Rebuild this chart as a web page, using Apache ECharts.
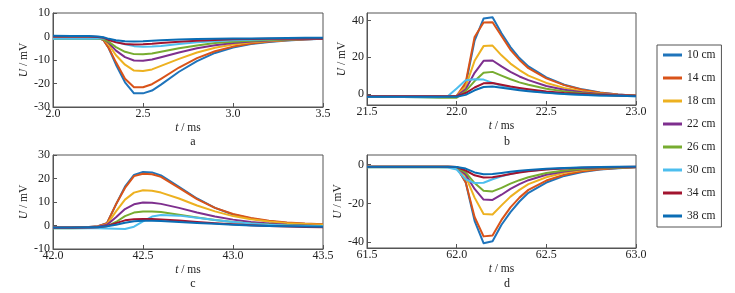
<!DOCTYPE html>
<html>
<head>
<meta charset="utf-8">
<script src="https://cdn.jsdelivr.net/npm/echarts@6/dist/echarts.min.js"></script>
<style>
  html, body { margin: 0; padding: 0; background: #fff; }
  #main { width: 735px; height: 293px; }
</style>
</head>
<body>
<div id="main"></div>
<script>
// distances (legend order)
const names = ['10 cm', '14 cm', '18 cm', '22 cm', '26 cm', '30 cm', '34 cm', '38 cm'];
const colors = ['#1f74bb', '#d95319', '#edb120', '#7e2f8e', '#77ac30', '#4dbeee', '#a2142f', '#0a6db5'];

// panel a
const tA = [2.0, 2.1, 2.2, 2.25, 2.28, 2.31, 2.35, 2.4, 2.45, 2.5, 2.55, 2.6, 2.7, 2.8, 2.9, 3.0, 3.1, 3.2, 3.3, 3.4, 3.5];
const uA = [
  [-0.3, -0.2, -0.2, -0.5, -1.5, -5, -12, -19.5, -24.2, -24.2, -23, -20.5, -15, -10.5, -7, -4.7, -3.2, -2.3, -1.7, -1.3, -1.0],
  [-0.3, -0.2, -0.2, -0.5, -1.5, -5, -11, -18, -21.6, -21.6, -20.3, -18, -13.2, -9.2, -6.3, -4.3, -3, -2.1, -1.6, -1.2, -1.0],
  [-0.8, -0.8, -0.8, -0.8, -1, -3.5, -8, -12, -14.5, -14.7, -14, -12.5, -9.5, -6.8, -4.8, -3.4, -2.5, -1.9, -1.5, -1.2, -1.0],
  [-0.8, -0.8, -0.8, -0.8, -1, -2.8, -6, -8.8, -10.2, -10.3, -9.8, -8.8, -6.8, -5, -3.7, -2.8, -2.1, -1.7, -1.4, -1.2, -1.0],
  [-1, -1, -1, -1, -1.2, -2.3, -4.5, -6.5, -7.5, -7.6, -7.2, -6.5, -5, -3.8, -2.8, -2.2, -1.8, -1.5, -1.3, -1.1, -1.0],
  [-1, -1, -1, -0.8, -0.8, -1.2, -2.2, -3.3, -4.1, -4.4, -4.3, -4, -3.2, -2.5, -2, -1.6, -1.4, -1.2, -1.1, -1.0, -1.0],
  [0, 0, 0, -0.2, -0.5, -1.5, -2.5, -3.2, -3.4, -3.3, -3.1, -2.8, -2.2, -1.8, -1.5, -1.2, -1.1, -1.0, -1.0, -1.0, -1.0],
  [0.3, 0.2, 0.2, 0, -0.3, -1, -1.6, -2, -2.1, -2, -1.8, -1.6, -1.3, -1.1, -1, -0.9, -0.8, -0.7, -0.6, -0.5, -0.5]
];

// panel b
const tB = [21.5, 21.6, 21.7, 21.8, 21.9, 21.95, 22.0, 22.05, 22.1, 22.15, 22.2, 22.25, 22.3, 22.35, 22.4, 22.5, 22.6, 22.7, 22.8, 22.9, 23.0];
const uB = [
  [-1.5, -1.5, -1.5, -1.5, -1.5, -1.5, -1.3, 5, 29, 41, 41.7, 33, 25.5, 19.5, 15, 9, 5, 2.5, 0.8, -0.3, -1],
  [-1.5, -1.5, -1.5, -1.5, -1.5, -1.5, -1, 6, 31, 38.8, 39, 31.5, 24, 18.5, 14, 8.5, 4.8, 2.3, 0.7, -0.3, -1],
  [-1.5, -1.5, -1.5, -1.5, -1.5, -1.5, -1, 4, 18, 26, 26.3, 21, 16.5, 13, 10, 6, 3.3, 1.5, 0.3, -0.5, -1],
  [-1.5, -1.5, -1.5, -1.5, -1.5, -1.6, -1.2, 2.5, 11.5, 18, 18.2, 15, 12, 9.5, 7.5, 4.3, 2.3, 1, 0, -0.6, -1],
  [-1.5, -1.5, -1.6, -1.8, -2, -2, -2, 1.5, 7, 11.5, 12, 10, 8, 6.3, 5, 2.8, 1.4, 0.4, -0.3, -0.8, -1],
  [-1.5, -1.5, -1.6, -1.8, -1.8, -1.2, 3, 7.5, 8, 7.8, 6, 4.5, 3.3, 2.5, 1.8, 0.8, 0, -0.5, -0.8, -1, -1.2],
  [-1.3, -1.3, -1.3, -1.3, -1.3, -1.3, -1.3, 0.5, 3.5, 5.8, 6, 5, 4, 3.2, 2.5, 1.3, 0.5, 0, -0.4, -0.8, -1],
  [-1.5, -1.5, -1.5, -1.5, -1.5, -1.5, -1.5, -0.5, 2, 3.8, 4, 3.4, 2.7, 2, 1.5, 0.6, 0, -0.4, -0.8, -1, -1.2]
];

// panel c
const tC = [42.0, 42.1, 42.2, 42.25, 42.3, 42.35, 42.4, 42.45, 42.5, 42.55, 42.6, 42.7, 42.8, 42.9, 43.0, 43.1, 43.2, 43.3, 43.4, 43.5];
const uC = [
  [-0.8, -0.8, -0.6, -0.3, 1, 9, 16.5, 21.5, 22.8, 22.6, 21.3, 16.5, 11.5, 7.5, 4.7, 3, 1.8, 1.1, 0.6, 0.3],
  [-0.8, -0.8, -0.6, -0.3, 1, 9, 16, 21, 22, 21.8, 20.7, 16, 11.2, 7.5, 4.9, 3.2, 2, 1.3, 0.8, 0.5],
  [-1, -1, -0.8, -0.5, 0.5, 6, 11, 14, 15, 14.8, 14, 11.5, 8.5, 6, 4, 2.7, 1.7, 1, 0.6, 0.3],
  [-1, -1, -0.8, -0.5, 0.3, 3.5, 7, 9, 9.8, 9.7, 9.2, 7.5, 5.5, 3.8, 2.5, 1.5, 0.8, 0.3, 0, -0.2],
  [-1.2, -1.2, -1.1, -0.9, -0.3, 1.5, 4, 5.5, 6, 6, 5.7, 4.6, 3.4, 2.3, 1.5, 0.8, 0.4, 0.1, -0.1, -0.3],
  [-1.2, -1.2, -1.2, -1.2, -1.3, -1.4, -1.5, -0.5, 1.8, 3.8, 4.5, 4.2, 3.3, 2.3, 1.5, 0.8, 0.3, 0, -0.2, -0.3],
  [-1, -1, -0.9, -0.7, -0.2, 1, 2.2, 2.7, 2.8, 2.8, 2.6, 2.1, 1.5, 1, 0.5, 0.1, -0.2, -0.4, -0.6, -0.7],
  [-0.8, -0.8, -0.7, -0.6, -0.3, 0.3, 1.2, 1.8, 2, 2, 1.9, 1.5, 1.1, 0.7, 0.3, 0, -0.2, -0.3, -0.4, -0.5]
];

// panel d
const tD = [61.5, 61.6, 61.7, 61.8, 61.9, 61.95, 62.0, 62.05, 62.1, 62.15, 62.2, 62.25, 62.3, 62.35, 62.4, 62.5, 62.6, 62.7, 62.8, 62.9, 63.0];
const uD = [
  [-1, -1, -1, -1, -1, -1, -1.2, -9, -29, -40.5, -39.5, -31, -24.5, -19, -14.5, -9.2, -5.8, -3.8, -2.5, -1.8, -1.3],
  [-1, -1, -1, -1, -1, -1, -1.2, -9, -27, -37, -36.5, -28.5, -22, -17, -13, -8.2, -5.2, -3.4, -2.3, -1.7, -1.3],
  [-1, -1, -1, -1, -1, -1, -1.3, -6, -17, -25.5, -25.7, -21, -16.5, -13, -10, -6.5, -4.2, -2.8, -2, -1.5, -1.2],
  [-1.2, -1.2, -1.2, -1.2, -1.2, -1.2, -1.3, -5, -12.5, -18, -18.2, -15.5, -12.5, -10, -8, -5.2, -3.5, -2.4, -1.8, -1.4, -1.2],
  [-1.3, -1.3, -1.3, -1.3, -1.3, -1.3, -1.5, -4, -9.5, -13.5, -13.8, -12, -9.8, -8, -6.5, -4.3, -3, -2.2, -1.7, -1.4, -1.2],
  [-1.3, -1.3, -1.3, -1.3, -1.3, -1.5, -2.5, -7.5, -9.5, -9.3, -7.5, -6, -4.8, -3.8, -3.2, -2.3, -1.8, -1.5, -1.3, -1.2, -1.1],
  [-1, -1, -1, -1, -1, -1, -1.2, -3, -5.5, -6.6, -6.5, -5.7, -4.8, -4, -3.4, -2.5, -2, -1.6, -1.4, -1.2, -1.1],
  [-1, -1, -1, -1, -1, -1, -1.2, -2, -4, -4.9, -4.8, -4.3, -3.7, -3.1, -2.7, -2.1, -1.7, -1.4, -1.2, -1.1, -1]
];

const xRanges = [[2.0, 3.5], [21.5, 23.0], [42.0, 43.5], [61.5, 63.0]];
const yRanges = [[-30, 10], [-6, 44], [-10, 30], [-43, 5]];
const panelLetters = ['a', 'b', 'c', 'd'];

const times = [tA, tB, tC, tD];
const values = [uA, uB, uC, uD];

const font = 'Liberation Serif, Times New Roman, serif';
const ink = '#222';
const frame = '#555';

const grids = [
  { left: 53, top: 13, width: 270, height: 94 },
  { left: 367, top: 13, width: 269, height: 92 },
  { left: 53, top: 155, width: 270, height: 94 },
  { left: 367, top: 155, width: 269, height: 93 }
].map(g => Object.assign(g, { show: true, borderColor: frame, borderWidth: 1, containLabel: false, outerBoundsMode: 'none' }));

const nameStyle = {
  fontFamily: font, fontSize: 11.5, color: ink,
  rich: { i: { fontStyle: 'italic', fontFamily: font, fontSize: 11.5, color: ink } }
};

const xAxes = xRanges.map((r, i) => ({
  type: 'value',
  gridIndex: i,
  min: r[0],
  max: r[1],
  interval: 0.5,
  name: '{i|t} / ms',
  nameLocation: 'middle',
  nameGap: 15,
  nameTextStyle: nameStyle,
  axisLine: { show: true, onZero: false, lineStyle: { color: frame, width: 1 } },
  axisTick: { show: true, inside: true, length: 4, lineStyle: { color: frame } },
  axisLabel: { fontFamily: font, fontSize: 12, color: ink, margin: 1, formatter: v => v.toFixed(1) },
  splitLine: { show: false }
}));

const yAxes = yRanges.map((r, i) => {
  const ax = {
    type: 'value',
    gridIndex: i,
    min: r[0],
    max: r[1],
    name: '{i|U} / mV',
    nameLocation: 'middle',
    nameGap: (i % 2 === 0) ? 19 : 18,
    nameTextStyle: nameStyle,
    axisLine: { show: true, onZero: false, lineStyle: { color: frame, width: 1 } },
    axisTick: { show: true, inside: true, length: 4, lineStyle: { color: frame } },
    axisLabel: { fontFamily: font, fontSize: 12, color: ink, margin: 3 },
    splitLine: { show: false }
  };
  if (r[0] % 10 === 0) {
    ax.interval = 10;
  } else {
    // edges are not round numbers: let echarts pick 20-step ticks
    ax.splitNumber = 3;
    ax.axisLabel.showMinLabel = false;
    ax.axisLabel.showMaxLabel = false;
  }
  return ax;
});

const series = [];
for (let p = 0; p < 4; p++) {
  for (let k = 0; k < names.length; k++) {
    series.push({
      type: 'line',
      name: names[k],
      xAxisIndex: p,
      yAxisIndex: p,
      symbol: 'none',
      silent: true,
      lineStyle: { width: 2, color: colors[k], join: 'round' },
      itemStyle: { color: colors[k] },
      data: times[p].map((t, j) => [t, values[p][k][j]])
    });
  }
}

const letterPos = [[188, 131], [502, 131], [188, 273], [502, 273]];
const titles = panelLetters.map((s, i) => ({
  text: s,
  left: letterPos[i][0],
  top: letterPos[i][1],
  textAlign: 'center',
  textStyle: { fontFamily: font, fontSize: 12, fontWeight: 'normal', color: ink }
}));

const chart = echarts.init(document.getElementById('main'));
chart.setOption({
  animation: false,
  backgroundColor: '#fff',
  title: titles,
  grid: grids,
  xAxis: xAxes,
  yAxis: yAxes,
  legend: {
    data: names.map(n => ({ name: n, icon: 'rect' })),
    orient: 'vertical',
    left: 657,
    top: 45,
    padding: [3, 6, 4, 6],
    itemGap: 9,
    itemWidth: 19,
    itemHeight: 3,
    borderColor: frame,
    borderWidth: 1,
    selectedMode: false,
    textStyle: { fontFamily: font, fontSize: 11.5, color: ink, lineHeight: 14 }
  },
  series: series
});
</script>
</body>
</html>
